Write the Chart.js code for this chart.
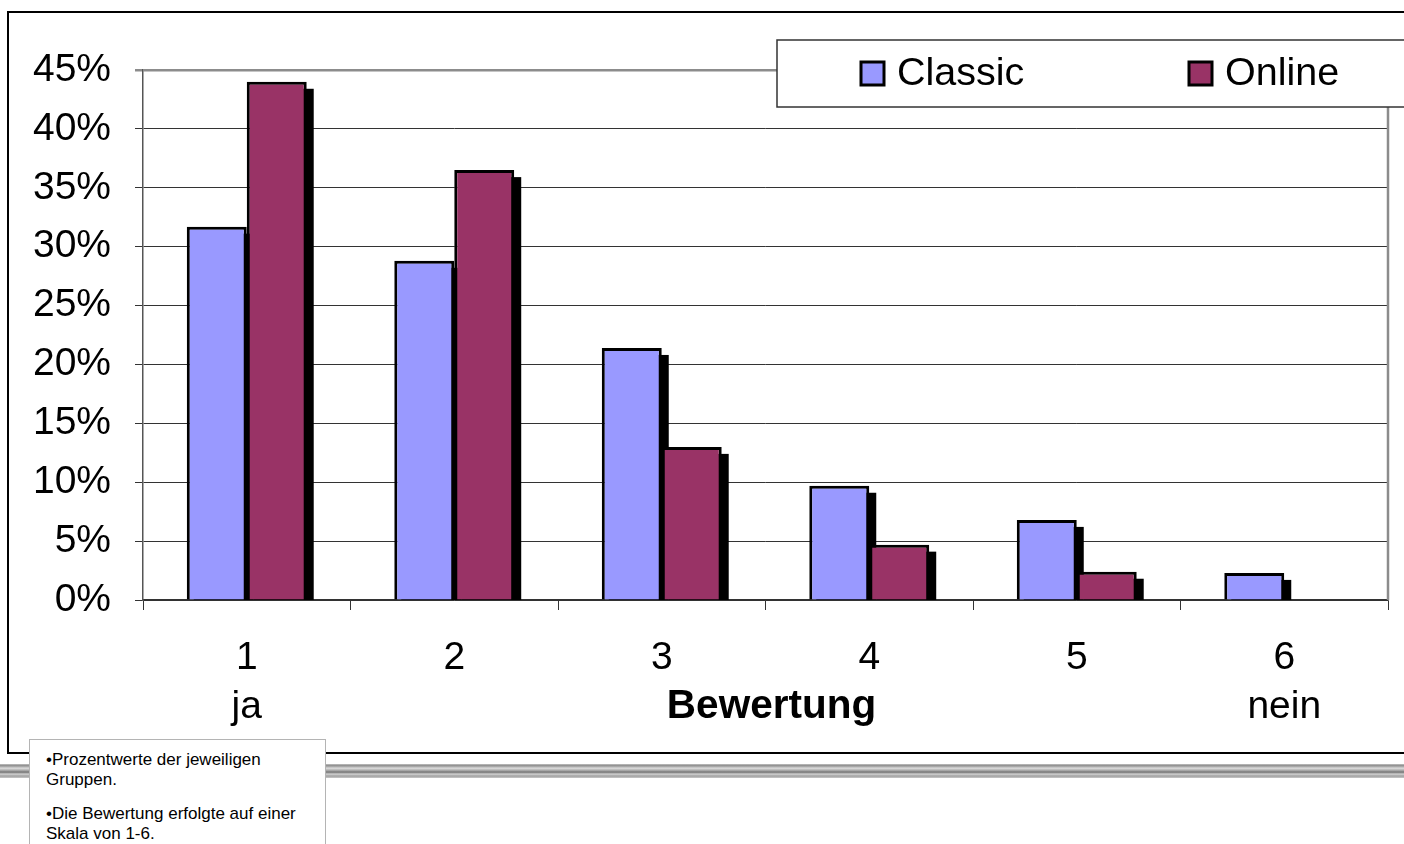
<!DOCTYPE html>
<html>
<head>
<meta charset="utf-8">
<script src="https://cdn.jsdelivr.net/npm/chart.js@4/dist/chart.umd.min.js"></script>
<style>
  html, body { margin: 0; padding: 0; width: 1404px; height: 844px; overflow: hidden; background: #fff; }
  #frame { position: absolute; left: 7px; top: 11px; width: 1420px; height: 743px; border: 2px solid #000; box-sizing: border-box; }
  #rule { position: absolute; left: 0; top: 764px; width: 1404px; height: 14px;
          background: linear-gradient(to bottom, #c0c0c0 0%, #8e8e8e 12%, #dcdcdc 30%, #adadad 45%, #747474 58%, #d2d2d2 72%, #a0a0a0 86%, #c8c8c8 100%); }
  #chart { position: absolute; left: 0; top: 0; }
  #note { position: absolute; left: 29px; top: 739px; width: 297px; height: 120px; background: #fff;
          border: 1px solid #b4b4b4; box-sizing: border-box; font-family: "Liberation Sans", Arial, sans-serif;
          font-size: 17px; color: #000; padding: 10px 0 0 16px; line-height: 20px; }
  #note p { margin: 0 0 14px 0; }
</style>
</head>
<body>
<div id="frame"></div>
<div id="rule"></div>
<canvas id="chart" width="1404" height="844"></canvas>
<div id="note">
  <p>•Prozentwerte der jeweiligen<br>Gruppen.</p>
  <p>•Die Bewertung erfolgte auf einer<br>Skala von 1-6.</p>
</div>
<script>
// Rating scale 1..6 with verbal anchors on the ends
const ratings = ['1', '2', '3', '4', '5', '6'];
const anchors = ['ja', '', '', '', '', 'nein'];
const axisTitle = 'Bewertung';

// Share of answers per rating, in percent
const classicValues = [31.7, 28.8, 21.4, 9.7, 6.8, 2.3];
const onlineValues  = [44.0, 36.5, 13.0, 4.7, 2.4, 0];

const yTicks = [0, 5, 10, 15, 20, 25, 30, 35, 40, 45];

const FONT = '"Liberation Sans", Arial, sans-serif';

// Black drop shadow behind each bar, clipped to the plot area
const barShadow = {
  id: 'barShadow',
  beforeDatasetsDraw(chart) {
    const { ctx, chartArea } = chart;
    ctx.save();
    ctx.beginPath();
    ctx.rect(chartArea.left, chartArea.top, chartArea.right - chartArea.left, chartArea.bottom - chartArea.top);
    ctx.clip();
    ctx.fillStyle = '#000';
    chart.data.datasets.forEach((ds, i) => {
      chart.getDatasetMeta(i).data.forEach(bar => {
        const p = bar.getProps(['x', 'y', 'base', 'width'], true);
        const h = p.base - p.y;
        if (h < 1) return;
        ctx.fillRect(p.x - p.width / 2 + 7, p.y + 7, p.width, h);
      });
    });
    ctx.restore();
    // right edge of the plot area
    ctx.save();
    ctx.strokeStyle = '#8c8c8c';
    ctx.lineWidth = 2.5;
    ctx.beginPath();
    ctx.moveTo(chartArea.right, chartArea.top);
    ctx.lineTo(chartArea.right, chartArea.bottom);
    ctx.stroke();
    ctx.restore();
  }
};

// Axis title on the same line as the verbal anchors, plus the boxed legend
const extras = {
  id: 'extras',
  afterDraw(chart) {
    const { ctx, chartArea } = chart;
    ctx.save();
    ctx.fillStyle = '#000';
    ctx.font = 'bold 40.5px ' + FONT;
    ctx.textAlign = 'center';
    ctx.textBaseline = 'middle';
    ctx.fillText(axisTitle, (chartArea.left + chartArea.right) / 2 + 6, chartArea.bottom + 107);

    // legend box
    ctx.fillStyle = '#fff';
    ctx.fillRect(777, 40, 700, 67);
    ctx.strokeStyle = '#333';
    ctx.lineWidth = 1.5;
    ctx.strokeRect(777, 40, 700, 67);
    const items = [
      { x: 861, textX: 897 },
      { x: 1189, textX: 1225 }
    ];
    chart.data.datasets.forEach((ds, i) => {
      const it = items[i];
      ctx.fillStyle = ds.backgroundColor;
      ctx.fillRect(it.x, 62, 23, 23);
      ctx.strokeStyle = '#000';
      ctx.lineWidth = 3;
      ctx.strokeRect(it.x, 62, 23, 23);
      ctx.fillStyle = '#000';
      ctx.font = '39.5px ' + FONT;
      ctx.textAlign = 'left';
      ctx.textBaseline = 'middle';
      ctx.fillText(ds.label, it.textX, 74);
    });
    ctx.restore();
  }
};

new Chart(document.getElementById('chart'), {
  type: 'bar',
  data: {
    labels: ratings.map((r, i) => [r, anchors[i]]),
    datasets: [
      { label: 'Classic', data: classicValues, backgroundColor: '#9999ff', borderColor: '#000', borderWidth: 3 },
      { label: 'Online',  data: onlineValues,  backgroundColor: '#993366', borderColor: '#000', borderWidth: 3 }
    ]
  },
  options: {
    responsive: false,
    animation: false,
    events: [],
    layout: { padding: { left: 0, top: 70, right: 16, bottom: 0 } },
    datasets: { bar: { categoryPercentage: 0.578, barPercentage: 1.0 } },
    plugins: { legend: { display: false }, tooltip: { enabled: false } },
    scales: {
      x: {
        offset: true,
        grid: { offset: true, drawOnChartArea: false, drawTicks: true, tickLength: 10, color: '#333', lineWidth: 1 },
        border: { display: true, color: '#333', width: 1.5 },
        ticks: { color: '#000', font: { family: FONT, size: 39, lineHeight: 1.25 }, padding: 24, maxRotation: 0, autoSkip: false },
        afterFit(scale) { scale.height = 244; }
      },
      y: {
        min: 0,
        max: 45,
        afterBuildTicks(scale) { scale.ticks = yTicks.map(v => ({ value: v })); },
        grid: {
          tickLength: 8,
          color: c => (c.tick && c.tick.value === 45 ? '#8c8c8c' : '#333'),
          lineWidth: c => (c.tick && c.tick.value === 45 ? 2.5 : 1)
        },
        border: { display: true, color: '#555', width: 1.5 },
        ticks: { color: '#000', font: { family: FONT, size: 39 }, padding: 24, callback: v => v + '%' },
        afterFit(scale) { scale.width = 143; }
      }
    }
  },
  plugins: [barShadow, extras]
});
</script>
</body>
</html>
